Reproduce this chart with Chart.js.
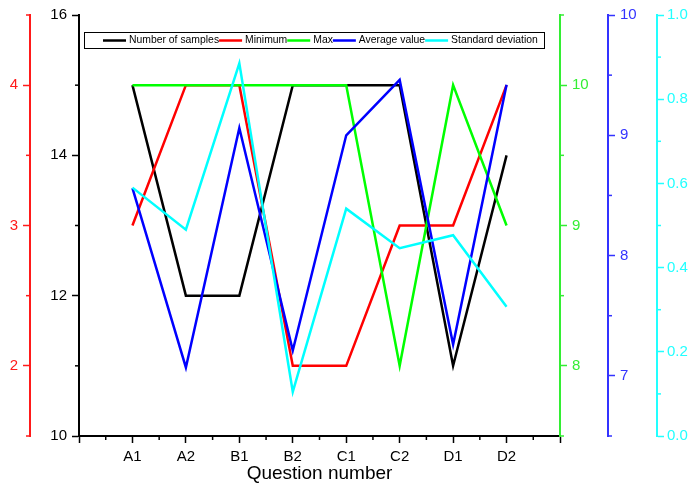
<!DOCTYPE html>
<html>
<head>
<meta charset="utf-8">
<script src="https://cdn.jsdelivr.net/npm/chart.js@4.4.1/dist/chart.umd.min.js"></script>
<style>
    html, body { margin: 0; padding: 0; background: #fff; }
    #wrap { width: 690px; height: 488px; }
</style>
</head>
<body>
<div id="wrap"><canvas id="chart" width="690" height="488"></canvas></div>
<script>
const categories = ["A1", "A2", "B1", "B2", "C1", "C2", "D1", "D2"];
const numSamples = [15, 12, 12, 15, 15, 15, 11, 14];
const minimum = [3, 4, 4, 2, 2, 3, 3, 4];
const maximum = [10, 10, 10, 10, 10, 8, 10, 9];
const average = [8.56, 7.07, 9.06, 7.21, 9.0, 9.46, 7.26, 9.42];
const stdDev = [0.59, 0.49, 0.885, 0.105, 0.54, 0.446, 0.477, 0.307];

const font = "'Liberation Sans', Arial, sans-serif";

// step between labelled (long) ticks per axis
const majorSteps = { x: 1, yN: 2, yMin: 1, yMax: 1, yAvg: 1, ySd: 0.2 };

function isMajor(v, step) {
    const r = v / step;
    return Math.abs(r - Math.round(r)) < 1e-6;
}

function yAxis(id, color, min, max, step, position, weight, width, padding, decimals) {
    return {
        type: "linear",
        position: position,
        weight: weight,
        min: min,
        max: max,
        border: { display: true, color: color, width: 2 },
        grid: {
            drawOnChartArea: false,
            tickLength: 7,
            tickWidth: 1.5,
            tickColor: (c) => isMajor(c.tick.value, majorSteps[id]) ? color : "rgba(0,0,0,0)"
        },
        ticks: {
            stepSize: step,
            autoSkip: false,
            color: color,
            padding: padding,
            font: { family: font, size: 15 },
            callback: (v) => isMajor(v, majorSteps[id]) ? v.toFixed(decimals) : ""
        },
        afterFit: (s) => { s.width = width; }
    };
}

function series(values) {
    return values.map((v, i) => ({ x: i + 1, y: v }));
}

// short ticks between the labelled ones
const minorTicks = {
    id: "minorTicks",
    afterDraw(chart) {
        const ctx = chart.ctx;
        ctx.save();
        ctx.lineWidth = 1.5;
        Object.values(chart.scales).forEach((scale) => {
            const step = majorSteps[scale.id];
            ctx.strokeStyle = scale.options.border.color;
            scale.ticks.forEach((t) => {
                if (isMajor(t.value, step)) return;
                const p = scale.getPixelForValue(t.value);
                ctx.beginPath();
                if (scale.isHorizontal()) {
                    ctx.moveTo(p, scale.top);
                    ctx.lineTo(p, scale.top + 4);
                } else if (scale.position === "left") {
                    ctx.moveTo(scale.right, p);
                    ctx.lineTo(scale.right - 4, p);
                } else {
                    ctx.moveTo(scale.left, p);
                    ctx.lineTo(scale.left + 4, p);
                }
                ctx.stroke();
            });
        });
        ctx.restore();
    }
};

// boxed legend inside the plot
const boxLegend = {
    id: "boxLegend",
    afterDraw(chart) {
        const ctx = chart.ctx;
        const area = chart.chartArea;
        const left = area.left + 5;
        const top = area.top + 17;
        const w = 460, h = 16;
        ctx.save();
        ctx.fillStyle = "#fff";
        ctx.fillRect(left, top, w, h);
        ctx.strokeStyle = "#000";
        ctx.lineWidth = 1;
        ctx.strokeRect(left + 0.5, top + 0.5, w, h);
        ctx.font = "10.4px " + font;
        ctx.textBaseline = "middle";
        let x = left + 19;
        const y = top + h / 2 + 0.5;
        chart.data.datasets.forEach((ds) => {
            ctx.strokeStyle = ds.borderColor;
            ctx.lineWidth = 2.5;
            ctx.beginPath();
            ctx.moveTo(x, y);
            ctx.lineTo(x + 23, y);
            ctx.stroke();
            x += 26;
            ctx.fillStyle = "#000";
            ctx.fillText(ds.label, x, y);
            x += ctx.measureText(ds.label).width;
        });
        ctx.restore();
    }
};

const canvas = document.getElementById("chart");
new Chart(canvas.getContext("2d"), {
    type: "line",
    data: {
        datasets: [
            { label: "Number of samples", data: series(numSamples), borderColor: "#000000", yAxisID: "yN", order: 5 },
            { label: "Minimum", data: series(minimum), borderColor: "#ff0000", yAxisID: "yMin", order: 4 },
            { label: "Max", data: series(maximum), borderColor: "#00ff00", yAxisID: "yMax", order: 3 },
            { label: "Average value", data: series(average), borderColor: "#0000ff", yAxisID: "yAvg", order: 2 },
            { label: "Standard deviation", data: series(stdDev), borderColor: "#00ffff", yAxisID: "ySd", order: 1 }
        ]
    },
    options: {
        responsive: false,
        animation: false,
        layout: { padding: { top: 15, left: 0, right: 0, bottom: 0 } },
        elements: {
            line: { borderWidth: 2.5, tension: 0, fill: false },
            point: { radius: 0, hoverRadius: 0 }
        },
        plugins: {
            legend: { display: false },
            tooltip: { enabled: false }
        },
        scales: {
            x: {
                type: "linear",
                min: 0,
                max: 9,
                border: { display: true, color: "#000", width: 2 },
                grid: {
                    drawOnChartArea: false,
                    tickLength: 7,
                    tickWidth: 1.5,
                    tickColor: (c) => isMajor(c.tick.value, 1) ? "#000" : "rgba(0,0,0,0)"
                },
                ticks: {
                    stepSize: 0.5,
                    autoSkip: false,
                    maxRotation: 0,
                    padding: 5,
                    color: "#000",
                    font: { family: font, size: 15 },
                    callback: (v) => (Number.isInteger(v) && v >= 1 && v <= categories.length) ? categories[v - 1] : ""
                },
                title: {
                    display: true,
                    text: "Question number",
                    color: "#000",
                    font: { family: font, size: 19 },
                    padding: { top: 0, bottom: 3 }
                },
                afterFit: (s) => { s.height = 52; }
            },
            yN: yAxis("yN", "#000000", 10, 16, 1, "left", 0, 49, 5, 0),
            yMin: yAxis("yMin", "#ff1a1a", 1.5, 4.5, 0.5, "left", 1, 30, 5, 0),
            yMax: yAxis("yMax", "#33ee33", 7.5, 10.5, 0.5, "right", 0, 48, 5, 0),
            yAvg: yAxis("yAvg", "#3333ff", 6.5, 10, 0.5, "right", 1, 49, 5, 0),
            ySd: yAxis("ySd", "#22ffff", 0, 1, 0.1, "right", 2, 33, 3, 1)
        }
    },
    plugins: [minorTicks, boxLegend]
});
</script>
</body>
</html>
